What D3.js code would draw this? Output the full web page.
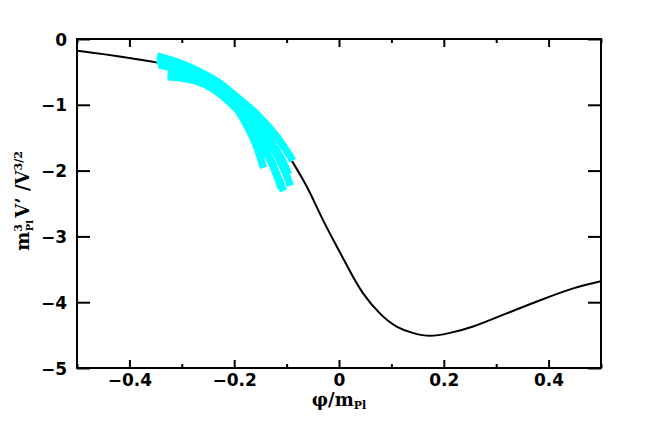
<!DOCTYPE html>
<html>
<head>
<meta charset="utf-8">
<script src="https://cdn.jsdelivr.net/npm/d3@7"></script>
<style>
  html, body { margin: 0; padding: 0; background: #fff; }
  svg { display: block; }
  text { font-family: "DejaVu Sans", sans-serif; font-weight: bold; fill: #000; }
  .serif { font-family: "DejaVu Serif", serif; }
</style>
</head>
<body>
<svg id="chart" width="654" height="436"></svg>
<script>
// ---- data ----
const xTicks = [-0.4, -0.2, 0, 0.2, 0.4];
const xMinorTicks = [-0.5, -0.3, -0.1, 0.1, 0.3, 0.5];
const yTicks = [0, -1, -2, -3, -4, -5];
const xTickLabels = ["\u22120.4", "\u22120.2", "0", "0.2", "0.4"];
const yTickLabels = ["0", "\u22121", "\u22122", "\u22123", "\u22124", "\u22125"];

const curvePhi = [-0.5, -0.45, -0.4, -0.35, -0.3, -0.25, -0.2, -0.15, -0.12, -0.1, -0.087, -0.07, -0.055, -0.03, -0.004, 0.021, 0.046, 0.078, 0.11, 0.142, 0.174, 0.21, 0.256, 0.32, 0.384, 0.447, 0.5];
const curveV   = [-0.178, -0.23, -0.29, -0.355, -0.47, -0.63, -0.87, -1.2, -1.5, -1.73, -1.89, -2.12, -2.345, -2.76, -3.157, -3.53, -3.865, -4.17, -4.37, -4.47, -4.51, -4.47, -4.37, -4.17, -3.97, -3.79, -3.68];

// cyan trajectories: [phi, V'] pairs
const traj1 = [[-0.347,-0.26],[-0.32,-0.32],[-0.29,-0.41],[-0.26,-0.52],[-0.23,-0.66],[-0.20,-0.85],[-0.16,-1.12],[-0.12,-1.47],[-0.088,-1.85]];
const traj2 = [[-0.347,-0.33],[-0.31,-0.42],[-0.28,-0.51],[-0.25,-0.63],[-0.22,-0.79],[-0.19,-1.0],[-0.16,-1.26],[-0.13,-1.6],[-0.105,-1.98],[-0.093,-2.23]];
const traj3 = [[-0.344,-0.39],[-0.32,-0.44],[-0.29,-0.52],[-0.26,-0.63],[-0.23,-0.79],[-0.20,-1.0],[-0.17,-1.28],[-0.145,-1.6],[-0.125,-1.94],[-0.106,-2.31]];
const traj4 = [[-0.327,-0.54],[-0.305,-0.555],[-0.28,-0.585],[-0.26,-0.63],[-0.235,-0.75],[-0.21,-0.92],[-0.19,-1.12],[-0.175,-1.33],[-0.16,-1.58],[-0.144,-1.96]];
const traj5 = [[-0.327,-0.575],[-0.30,-0.595],[-0.27,-0.645],[-0.24,-0.76],[-0.21,-0.95],[-0.18,-1.2],[-0.155,-1.5],[-0.13,-1.86],[-0.11,-2.27]];
const traj6 = [[-0.345,-0.30],[-0.31,-0.39],[-0.28,-0.48],[-0.25,-0.6],[-0.22,-0.76],[-0.19,-0.97],[-0.16,-1.22],[-0.13,-1.55],[-0.11,-1.82],[-0.096,-2.06]];
const trajectories = [traj1, traj2, traj3, traj4, traj5, traj6];

// ---- layout ----
const W = 654, H = 436;
const margin = { left: 77, right: 53, top: 39, bottom: 68 };
const svg = d3.select("#chart");
const x = d3.scaleLinear().domain([-0.5, 0.5]).range([margin.left, W - margin.right]);
const y = d3.scaleLinear().domain([-5, 0]).range([H - margin.bottom, margin.top]);

const smooth = d3.line().x(d => x(d[0])).y(d => y(d[1])).curve(d3.curveNatural);
const traj = d3.line().x(d => x(d[0])).y(d => y(d[1])).curve(d3.curveCatmullRom.alpha(0.5));

// black curve (clipped to plot), drawn beneath the cyan bundle
svg.append("clipPath").attr("id", "clip").append("rect")
  .attr("x", x(-0.5)).attr("y", y(0)).attr("width", x(0.5) - x(-0.5)).attr("height", y(-5) - y(0));
svg.append("path")
  .datum(curvePhi.map((p, i) => [p, curveV[i]]))
  .attr("d", smooth)
  .attr("fill", "none")
  .attr("stroke", "#000")
  .attr("stroke-width", 2)
  .attr("clip-path", "url(#clip)");

// cyan trajectories
svg.append("g").selectAll("path").data(trajectories).join("path")
  .attr("d", traj)
  .attr("fill", "none")
  .attr("stroke", "#00ffff")
  .attr("stroke-width", 7.5)
  .attr("stroke-linecap", "butt");

// axes (ticks inward, via d3.axis)
const majX = 8, minX = 4, majY = 13;
const gB = svg.append("g").attr("transform", `translate(0,${y(-5)})`)
  .call(d3.axisBottom(x).tickValues(xTicks).tickSize(-majX).tickFormat((d, i) => xTickLabels[i]).tickPadding(6));
const gBm = svg.append("g").attr("transform", `translate(0,${y(-5)})`)
  .call(d3.axisBottom(x).tickValues(xMinorTicks).tickSize(-minX).tickFormat(""));
const gT = svg.append("g").attr("transform", `translate(0,${y(0)})`)
  .call(d3.axisTop(x).tickValues(xTicks).tickSize(-majX).tickFormat(""));
const gTm = svg.append("g").attr("transform", `translate(0,${y(0)})`)
  .call(d3.axisTop(x).tickValues(xMinorTicks).tickSize(-minX).tickFormat(""));
const gL = svg.append("g").attr("transform", `translate(${x(-0.5)},0)`)
  .call(d3.axisLeft(y).tickValues(yTicks).tickSize(-majY).tickFormat((d, i) => yTickLabels[i]).tickPadding(10));
const gR = svg.append("g").attr("transform", `translate(${x(0.5)},0)`)
  .call(d3.axisRight(y).tickValues(yTicks).tickSize(-majY).tickFormat(""));

[gB, gBm, gT, gTm, gL, gR].forEach(g => {
  g.select(".domain").remove();
  g.selectAll(".tick line").attr("stroke", "#000").attr("stroke-width", 2);
  g.selectAll(".tick text").style("font-family", "'DejaVu Sans', sans-serif")
    .style("font-weight", "bold").style("font-size", "17px").attr("fill", "#000");
});
gB.selectAll(".tick text").attr("dy", "0.71em");
gL.selectAll(".tick text").attr("dy", "0.36em");

// frame
svg.append("rect")
  .attr("x", x(-0.5)).attr("y", y(0))
  .attr("width", x(0.5) - x(-0.5)).attr("height", y(-5) - y(0))
  .attr("fill", "none").attr("stroke", "#000").attr("stroke-width", 2);

// x title
const xt = svg.append("text").attr("class", "serif").attr("x", x(0)).attr("y", 406)
  .attr("text-anchor", "middle").style("font-size", "18px");
xt.append("tspan").text("\u03C6/m");
xt.append("tspan").attr("dy", 3).style("font-size", "11px").text("Pl");

// y title
const yt = svg.append("text").attr("class", "serif")
  .attr("transform", `translate(29,201) rotate(-90)`)
  .attr("text-anchor", "middle").style("font-size", "18px");
yt.append("tspan").text("m");
yt.append("tspan").attr("dy", -7).style("font-size", "11px").text("3");
yt.append("tspan").attr("dx", -7).attr("dy", 11).style("font-size", "10px").text("Pl");
yt.append("tspan").attr("dy", -4).attr("dx", 2).text("V\u2019 /V");
yt.append("tspan").attr("dy", -7).style("font-size", "11px").text("3/2");
</script>
</body>
</html>
